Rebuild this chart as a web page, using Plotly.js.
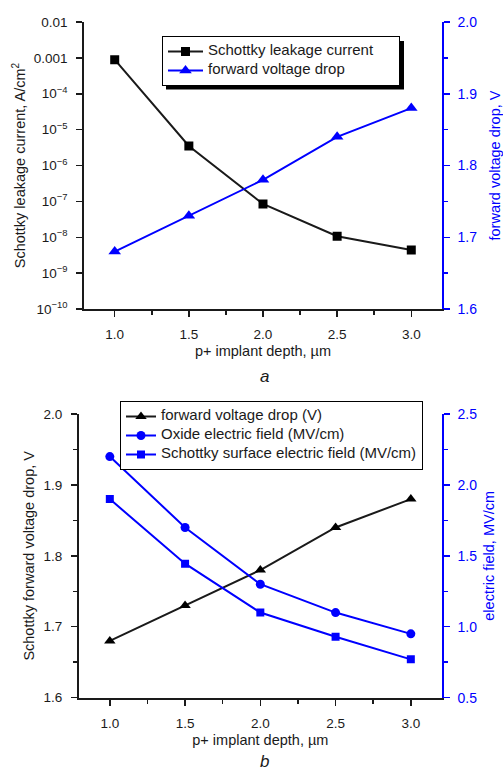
<!DOCTYPE html>
<html>
<head>
<meta charset="utf-8">
<script src="https://cdn.plot.ly/plotly-3.0.1.min.js"></script>
<style>html,body{margin:0;padding:0;background:#fff;}#chart{width:503px;height:772px;}</style>
</head>
<body>
<div id="chart"></div>
<script>
// ---- data ----
const depth = [1.0, 1.5, 2.0, 2.5, 3.0];
const leakageCurrent = [8.9e-4, 3.5e-6, 8.5e-8, 1.07e-8, 4.4e-9];
const forwardDropA = [1.68, 1.73, 1.78, 1.84, 1.88];
const forwardDropB = [1.68, 1.73, 1.78, 1.84, 1.88];
const oxideField = [2.20, 1.70, 1.30, 1.10, 0.95];
const surfaceField = [1.90, 1.445, 1.10, 0.93, 0.77];
const seriesNames = ['Schottky leakage current', 'forward voltage drop',
  'forward voltage drop (V)', 'Oxide electric field (MV/cm)', 'Schottky surface electric field (MV/cm)'];
const xTickVals = [1.0, 1.5, 2.0, 2.5, 3.0];
const xTickText = ['1.0', '1.5', '2.0', '2.5', '3.0'];
const logTickVals = [1e-10, 1e-9, 1e-8, 1e-7, 1e-6, 1e-5, 1e-4, 1e-3, 1e-2];
const logTickText = ['10<sup>−10</sup>', '10<sup>−9</sup>', '10<sup>−8</sup>', '10<sup>−7</sup>',
  '10<sup>−6</sup>', '10<sup>−5</sup>', '10<sup>−4</sup>', '0.001', '0.01'];
const voltTickVals = [1.6, 1.7, 1.8, 1.9, 2.0];
const voltTickText = ['1.6', '1.7', '1.8', '1.9', '2.0'];
const fieldTickVals = [0.5, 1.0, 1.5, 2.0, 2.5];
const fieldTickText = ['0.5', '1.0', '1.5', '2.0', '2.5'];

const FONT = 'Liberation Sans, Arial, sans-serif';
const BLUE = '#0000ff';
const DARK = '#1a1a1a';
const big = (s, pad) => '<span style="font-size:15px">' + s + '&nbsp;'.repeat(pad || 0) + '</span>';

const traces = [
  {x: depth, y: leakageCurrent, xaxis: 'x', yaxis: 'y', name: big(seriesNames[0], 5),
   mode: 'lines+markers', line: {color: DARK, width: 2}, marker: {symbol: 'square', size: 9, color: '#000'}, legend: 'legend'},
  {x: depth, y: forwardDropA, xaxis: 'x', yaxis: 'y2', name: big(seriesNames[1]),
   mode: 'lines+markers', line: {color: BLUE, width: 2}, marker: {symbol: 'triangle-up', size: 11, color: BLUE}, legend: 'legend'},
  {x: depth, y: forwardDropB, xaxis: 'x2', yaxis: 'y3', name: big(seriesNames[2]),
   mode: 'lines+markers', line: {color: DARK, width: 2}, marker: {symbol: 'triangle-up', size: 10, color: '#000'}, legend: 'legend2'},
  {x: depth, y: oxideField, xaxis: 'x2', yaxis: 'y4', name: big(seriesNames[3]),
   mode: 'lines+markers', line: {color: BLUE, width: 2}, marker: {symbol: 'circle', size: 9, color: BLUE}, legend: 'legend2'},
  {x: depth, y: surfaceField, xaxis: 'x2', yaxis: 'y4', name: big(seriesNames[4]),
   mode: 'lines+markers', line: {color: BLUE, width: 2}, marker: {symbol: 'square', size: 8, color: BLUE}, legend: 'legend2'}
];

const tickFont = {family: FONT, size: 13.5, color: DARK};
const blueTickFont = {family: FONT, size: 14, color: BLUE};
const titleFont = {family: FONT, size: 14.5, color: DARK};
const blueTitleFont = {family: FONT, size: 14.5, color: BLUE};

function xAxis(domain, anchor) {
  return {
    domain: domain, anchor: anchor, range: [0.795, 3.205], tickvals: xTickVals, ticktext: xTickText,
    showgrid: false, zeroline: false, showline: true, linecolor: DARK, linewidth: 2,
    ticks: 'outside', ticklen: 6, tickwidth: 1.5, tickcolor: DARK, tickfont: tickFont, ticklabelstandoff: 6,
    minor: {tickvals: [1.25, 1.75, 2.25, 2.75], ticks: 'outside', ticklen: 4, tickwidth: 1.5, tickcolor: DARK},
    title: {text: 'p+ implant depth, µm', font: titleFont, standoff: 5}
  };
}

const layout = {
  width: 503, height: 772,
  margin: {l: 0, r: 0, t: 0, b: 0},
  paper_bgcolor: '#fff', plot_bgcolor: 'rgba(0,0,0,0)',
  font: {family: FONT},
  showlegend: true,
  xaxis: xAxis([0.1676, 0.8781], 'y'),
  xaxis2: xAxis([0.157, 0.8781], 'y3'),
  yaxis: {
    domain: [0.5997, 0.9715], anchor: 'x', type: 'log', range: [-10, -2],
    tickvals: logTickVals, ticktext: logTickText,
    showgrid: false, zeroline: false, showline: true, linecolor: DARK, linewidth: 2,
    ticks: 'outside', ticklen: 6, tickwidth: 1.5, tickcolor: DARK, tickfont: tickFont, ticklabelstandoff: 6,
    title: {text: 'Schottky leakage current, A/cm<sup>2</sup>', font: titleFont, standoff: 5}
  },
  yaxis2: {
    overlaying: 'y', side: 'right', anchor: 'x', range: [1.6, 2.0],
    tickvals: voltTickVals, ticktext: voltTickText,
    showgrid: false, zeroline: false, showline: true, linecolor: BLUE, linewidth: 2,
    ticks: 'outside', ticklen: 6, tickwidth: 1.5, tickcolor: BLUE, tickfont: blueTickFont, ticklabelstandoff: 5,
    minor: {tickvals: [1.65, 1.75, 1.85, 1.95], ticks: 'outside', ticklen: 4, tickwidth: 1.5, tickcolor: BLUE},
    title: {text: 'forward voltage drop, V', font: blueTitleFont, standoff: 14}
  },
  yaxis3: {
    domain: [0.0963, 0.4637], anchor: 'x2', range: [1.6, 2.0],
    tickvals: voltTickVals, ticktext: voltTickText,
    showgrid: false, zeroline: false, showline: true, linecolor: DARK, linewidth: 2,
    ticks: 'outside', ticklen: 6, tickwidth: 1.5, tickcolor: DARK, tickfont: tickFont, ticklabelstandoff: 6,
    minor: {tickvals: [1.65, 1.75, 1.85, 1.95], ticks: 'outside', ticklen: 4, tickwidth: 1.5, tickcolor: DARK},
    title: {text: 'Schottky forward voltage drop, V', font: titleFont, standoff: 5}
  },
  yaxis4: {
    overlaying: 'y3', side: 'right', anchor: 'x2', range: [0.5, 2.5],
    tickvals: fieldTickVals, ticktext: fieldTickText,
    showgrid: false, zeroline: false, showline: true, linecolor: BLUE, linewidth: 2,
    ticks: 'outside', ticklen: 6, tickwidth: 1.5, tickcolor: BLUE, tickfont: blueTickFont, ticklabelstandoff: 5,
    minor: {tickvals: [0.75, 1.25, 1.75, 2.25], ticks: 'outside', ticklen: 4, tickwidth: 1.5, tickcolor: BLUE},
    title: {text: 'electric field, MV/cm', font: blueTitleFont, standoff: 8}
  },
  legend: {
    x: 162/503, y: 1 - 36/772, xanchor: 'left', yanchor: 'top',
    bgcolor: '#fff', bordercolor: '#000', borderwidth: 1,
    font: {family: FONT, size: 10, color: DARK}, itemwidth: 35, tracegroupgap: 0
  },
  legend2: {
    x: 120/503, y: 1 - 401/772, xanchor: 'left', yanchor: 'top',
    bgcolor: '#fff', bordercolor: '#000', borderwidth: 1,
    font: {family: FONT, size: 10, color: DARK}, itemwidth: 30, tracegroupgap: 0
  },
  shapes: [
    {type: 'rect', xref: 'paper', yref: 'paper', x0: 166/503, x1: 404/503, y0: 1 - 89.5/772, y1: 1 - 41/772,
     fillcolor: '#000', line: {width: 0}, layer: 'below'}
  ],
  annotations: [
    {text: '<i>a</i>', xref: 'paper', yref: 'paper', x: 264/503, y: 1 - 377/772, showarrow: false,
     font: {family: FONT, size: 17, color: DARK}, xanchor: 'center', yanchor: 'middle'},
    {text: '<i>b</i>', xref: 'paper', yref: 'paper', x: 264/503, y: 1 - 761/772, showarrow: false,
     font: {family: FONT, size: 17, color: DARK}, xanchor: 'center', yanchor: 'middle'}
  ]
};

Plotly.newPlot('chart', traces, layout, {displayModeBar: false, staticPlot: true});
</script>
</body>
</html>
